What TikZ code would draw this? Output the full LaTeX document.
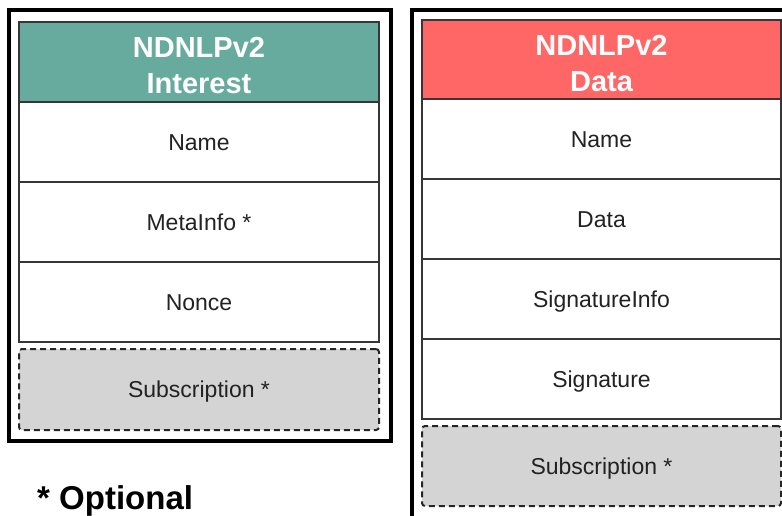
\documentclass[tikz,border=0pt]{standalone}
\usepackage{fontspec}
\setmainfont{Liberation Sans}
\definecolor{teal}{HTML}{67AB9F}
\definecolor{salmon}{HTML}{FF6666}
\definecolor{optgray}{HTML}{D4D4D4}
\definecolor{edge}{HTML}{363636}
\definecolor{txt}{HTML}{222222}
\tikzset{
  frame/.style={draw=black, line width=4pt},
  field/.style={draw=edge, line width=1.5pt, fill=white, inner sep=0pt,
    minimum width=#1, minimum height=80pt, text=txt,
    text height=16.5pt, text depth=0pt,
    font=\fontsize{23}{28}\selectfont},
  head/.style={draw=edge, line width=1.5pt, inner sep=0pt,
    minimum width=#1, minimum height=80pt},
  headtext/.style={text=white, align=center, inner sep=0pt,
    font=\fontsize{29}{36}\selectfont\bfseries},
  optfield/.style={field=#1, fill=optgray, draw=black!85, line width=2pt,
    dash pattern=on 6pt off 4pt, rounded corners=3pt},
  legend/.style={inner sep=0pt, anchor=base west, text=black,
    font=\fontsize{33}{38}\selectfont\bfseries}
}
\begin{document}
\begin{tikzpicture}[x=1pt, y=-1pt]
  \useasboundingbox (0,0) rectangle (782,516);
  \clip (0,0) rectangle (782,516);

  % Interest packet
  \draw[frame] (9,10) rectangle (391,441);
  \node[head=360pt, fill=teal] (ih) at (199,62) {};
  \node[headtext] (iht) at ([yshift=-4pt]ih.center) {NDNLPv2\\Interest};
  \node[field=360pt] (iname) at (199,142) {Name};
  \node[field=360pt] (imeta) at (199,222) {MetaInfo *};
  \node[field=360pt] (inonce) at (199,302) {Nonce};
  \node[optfield=360pt, minimum height=81pt] (isub) at (199,389.5) {Subscription *};

  % Data packet
  \draw[frame] (411.5,10) rectangle (793,517.5);
  \node[head=359pt, fill=salmon, minimum height=79pt] (dh) at (601.5,59.5) {};
  \node[headtext] (dht) at ([yshift=-4pt]dh.center) {NDNLPv2\\Data};
  \node[field=359pt] (dname) at (601.5,139) {Name};
  \node[field=359pt] (ddata) at (601.5,219) {Data};
  \node[field=359pt] (dsiginfo) at (601.5,299) {SignatureInfo};
  \node[field=359pt] (dsig) at (601.5,379) {Signature};
  \node[optfield=359pt] (dsub) at (601.5,466) {Subscription *};

  % legend
  \node[legend] (opt) at (37,509) {* Optional};
\end{tikzpicture}
\end{document}
